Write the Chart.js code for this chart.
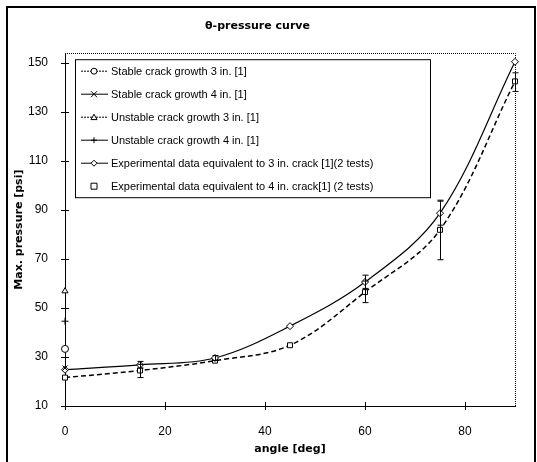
<!DOCTYPE html>
<html>
<head>
<meta charset="utf-8">
<title>θ-pressure curve</title>
<script src="https://cdn.jsdelivr.net/npm/chart.js@4.4.1/dist/chart.umd.min.js"></script>
<style>
  html, body { margin: 0; padding: 0; background: #fff; }
  #wrap { position: relative; width: 537px; height: 462px; overflow: hidden; }
  #frame {
    position: absolute; left: 6px; top: 6px; width: 526px; height: 470px;
    border: 2px solid #000; border-bottom: none;
  }
  #chart { position: absolute; left: 0; top: 0; }
</style>
</head>
<body>
<div id="wrap">
  <div id="frame"></div>
  <canvas id="chart" width="537" height="462"></canvas>
</div>
<script>
// data
const angles = [0, 15, 30, 45, 60, 75, 90];
const exp3in = [24.8, 26.8, 29.6, 42.6, 60.6, 88.7, 150.5];
const exp4in = [21.6, 24.5, 28.5, 34.8, 56.5, 81.9, 142.5];
// error bar ends (null = no bar)
const exp3inLow = [null, 25.5, 28.6, null, 58.0, 83.8, null];
const exp3inHigh = [null, 28.2, 30.6, null, 63.4, 93.6, null];
const exp4inLow = [null, 21.6, null, null, 52.2, 69.7, 138.4];
const exp4inHigh = [null, 27.0, null, null, 61.0, 94.0, 146.0];

// reference [1] values, only given at 0 deg
const refAngles = [0];
const stable3in = [33.3];
const stable4in = [25.5];
const unstable3in = [56.9];
const unstable4in = [44.6];

const seriesLabels = [
  "Stable crack growth 3 in. [1]",
  "Stable crack growth 4 in. [1]",
  "Unstable crack growth 3 in. [1]",
  "Unstable crack growth 4 in. [1]",
  "Experimental data equivalent to 3 in. crack [1](2 tests)",
  "Experimental data equivalent to 4 in. crack[1] (2 tests)",
];

const xTicks = [0, 20, 40, 60, 80];
const yTicks = [10, 30, 50, 70, 90, 110, 130, 150];

const toPoints = (xs, ys) => ys.map((y, i) => ({ x: xs[i], y: y }));

const tickFont = { family: "'Liberation Sans', Arial, sans-serif", size: 12 };
const titleFont = { family: "'DejaVu Sans', sans-serif", size: 11, weight: "bold" };

// simple marker drawer, used for the legend samples
function drawMarker(ctx, style, x, y, r) {
  ctx.beginPath();
  if (style === "circle") {
    ctx.arc(x, y, r, 0, Math.PI * 2);
  } else if (style === "rect") {
    ctx.rect(x - r, y - r, r * 2, r * 2);
  } else if (style === "rectRot") {
    ctx.moveTo(x, y - r); ctx.lineTo(x + r, y); ctx.lineTo(x, y + r); ctx.lineTo(x - r, y); ctx.closePath();
  } else if (style === "triangle") {
    ctx.moveTo(x, y - r); ctx.lineTo(x + r, y + r * 0.8); ctx.lineTo(x - r, y + r * 0.8); ctx.closePath();
  } else if (style === "cross") {
    ctx.moveTo(x, y - r); ctx.lineTo(x, y + r); ctx.moveTo(x - r, y); ctx.lineTo(x + r, y);
  } else if (style === "crossRot") {
    ctx.moveTo(x - r, y - r); ctx.lineTo(x + r, y + r); ctx.moveTo(x + r, y - r); ctx.lineTo(x - r, y + r);
  }
  if (style !== "cross" && style !== "crossRot") {
    ctx.fillStyle = "#fff";
    ctx.fill();
  }
  ctx.stroke();
}

const boxLegend = {
  id: "boxLegend",
  afterDraw(chart) {
    const { ctx, chartArea } = chart;
    const left = chartArea.left + 10;
    const top = chartArea.top + 6;
    const width = 355;
    const height = 138;
    ctx.save();
    ctx.fillStyle = "#fff";
    ctx.fillRect(left, top, width, height);
    ctx.strokeStyle = "#000";
    ctx.lineWidth = 1;
    ctx.strokeRect(left + 0.5, top + 0.5, width, height);
    ctx.font = "11px 'Liberation Sans', Arial, sans-serif";
    ctx.textBaseline = "middle";
    chart.data.datasets.forEach((ds, i) => {
      const y = top + 12 + i * 23;
      ctx.strokeStyle = "#000";
      ctx.lineWidth = 1;
      if (ds.legendLine) {
        ctx.setLineDash(ds.legendLine === "dotted" ? [2, 1] : []);
        ctx.beginPath();
        ctx.moveTo(left + 6, y);
        ctx.lineTo(left + 33, y);
        ctx.stroke();
        ctx.setLineDash([]);
      }
      drawMarker(ctx, ds.pointStyle, left + 19, y, 3);
      ctx.fillStyle = "#000";
      ctx.fillText(ds.label, left + 36, y + 1);
    });
    ctx.restore();
  },
};

const errorBars = {
  id: "errorBars",
  afterDatasetsDraw(chart) {
    const { ctx, scales } = chart;
    ctx.save();
    ctx.strokeStyle = "#000";
    ctx.lineWidth = 1;
    chart.data.datasets.forEach((ds) => {
      if (!ds.errLow) return;
      ds.errLow.forEach((lo, i) => {
        const hi = ds.errHigh[i];
        if (lo == null || hi == null) return;
        const px = Math.round(scales.x.getPixelForValue(ds.data[i].x)) + 0.5;
        const y1 = scales.y.getPixelForValue(lo);
        const y2 = scales.y.getPixelForValue(hi);
        ctx.beginPath();
        ctx.moveTo(px, y1); ctx.lineTo(px, y2);
        ctx.moveTo(px - 3, y1); ctx.lineTo(px + 3, y1);
        ctx.moveTo(px - 3, y2); ctx.lineTo(px + 3, y2);
        ctx.stroke();
      });
    });
    ctx.restore();
  },
};

// dotted top/right frame of the plot and ticks crossing the axes
const plotFrame = {
  id: "plotFrame",
  beforeDatasetsDraw(chart) {
    const { ctx, chartArea: a, scales } = chart;
    ctx.save();
    ctx.strokeStyle = "#000";
    ctx.lineWidth = 1;
    ctx.setLineDash([1, 1]);
    ctx.beginPath();
    ctx.moveTo(a.left, Math.round(a.top) + 0.5);
    ctx.lineTo(Math.round(a.right) + 0.5, Math.round(a.top) + 0.5);
    ctx.lineTo(Math.round(a.right) + 0.5, a.bottom);
    ctx.stroke();
    ctx.setLineDash([]);
    ctx.beginPath();
    xTicks.forEach((v) => {
      const px = Math.round(scales.x.getPixelForValue(v)) + 0.5;
      ctx.moveTo(px, a.bottom - 4); ctx.lineTo(px, a.bottom + 4);
    });
    yTicks.forEach((v) => {
      const py = Math.round(scales.y.getPixelForValue(v)) + 0.5;
      ctx.moveTo(a.left - 4, py); ctx.lineTo(a.left + 4, py);
    });
    ctx.stroke();
    ctx.restore();
  },
};

const marker = (style) => ({
  pointStyle: style,
  pointRadius: 3.5,
  pointBorderWidth: 1,
  pointBorderColor: "#000",
  pointBackgroundColor: "#fff",
  borderColor: "#000",
  backgroundColor: "#fff",
  clip: false,
});

new Chart(document.getElementById("chart"), {
  type: "line",
  data: {
    datasets: [
      { label: seriesLabels[0], data: toPoints(refAngles, stable3in), showLine: false, legendLine: "dotted", ...marker("circle") },
      { label: seriesLabels[1], data: toPoints(refAngles, stable4in), showLine: false, legendLine: "solid", ...marker("crossRot") },
      { label: seriesLabels[2], data: toPoints(refAngles, unstable3in), showLine: false, legendLine: "dotted", ...marker("triangle") },
      { label: seriesLabels[3], data: toPoints(refAngles, unstable4in), showLine: false, legendLine: "solid", ...marker("cross") },
      {
        label: seriesLabels[4], data: toPoints(angles, exp3in), legendLine: "solid",
        errLow: exp3inLow, errHigh: exp3inHigh,
        borderWidth: 1.2, tension: 0.35, ...marker("rectRot"),
      },
      {
        label: seriesLabels[5], data: toPoints(angles, exp4in), legendLine: null,
        errLow: exp4inLow, errHigh: exp4inHigh,
        borderWidth: 1.5, borderDash: [5, 3], tension: 0.35, ...marker("rect"),
      },
    ],
  },
  options: {
    responsive: false,
    animation: false,
    events: [],
    layout: { padding: { left: 0, right: 22, top: 0, bottom: 0 } },
    plugins: {
      legend: { display: false },
      tooltip: { enabled: false },
      title: {
        display: true,
        text: "θ-pressure curve",
        color: "#000",
        font: titleFont,
        padding: { top: 20, bottom: 20 },
      },
    },
    scales: {
      x: {
        type: "linear",
        min: 0,
        max: 90,
        grid: { display: false },
        border: { display: true, color: "#000", width: 1 },
        afterBuildTicks: (s) => { s.ticks = xTicks.map((v) => ({ value: v })); },
        afterFit: (s) => { s.height = 56; },
        ticks: { color: "#000", font: tickFont, padding: 10, maxRotation: 0 },
        title: { display: true, text: "angle [deg]", color: "#000", font: titleFont, padding: { top: 0, bottom: 6 } },
      },
      y: {
        type: "linear",
        min: 10,
        max: 154,
        grid: { display: false },
        border: { display: true, color: "#000", width: 1 },
        afterBuildTicks: (s) => { s.ticks = yTicks.map((v) => ({ value: v })); },
        afterFit: (s) => { s.width = 65; },
        ticks: { color: "#000", font: tickFont, padding: 9 },
        title: { display: true, text: "Max. pressure [psi]", color: "#000", font: titleFont, padding: { top: 13, bottom: 0 } },
      },
    },
  },
  plugins: [plotFrame, errorBars, boxLegend],
});
</script>
</body>
</html>
